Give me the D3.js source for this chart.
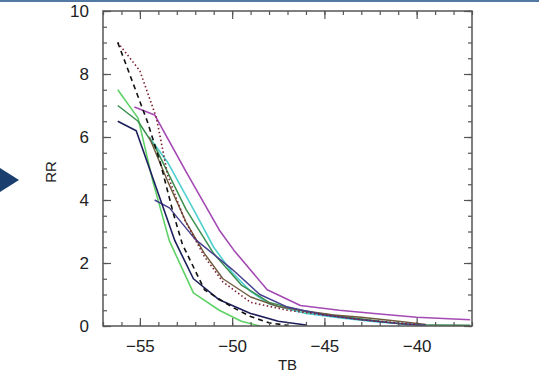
<!DOCTYPE html>
<html>
<head>
<meta charset="utf-8">
<script src="https://cdn.jsdelivr.net/npm/d3@7"></script>
<style>
  html, body { margin: 0; padding: 0; background: #fff; }
  svg { display: block; font-family: "Liberation Sans", Arial, sans-serif; }
</style>
</head>
<body>
<div id="chart"></div>
<script>
const WIDTH = 539
const HEIGHT = 384

// TB / RR pairs, one pair of arrays per curve
const tbMagenta = [-55.3, -54.2, -52.5, -50.7, -49.9, -48.1, -46.3, -44.2, -42, -40, -37.1]
const rrMagenta = [6.95, 6.7, 4.9, 3.05, 2.4, 1.15, 0.65, 0.5, 0.38, 0.28, 0.2]

const tbDotted = [-56.2, -55, -54.1, -53.5, -52.6, -51.5, -50.5, -49, -47, -45, -43, -41, -40]
const rrDotted = [9.0, 8.1, 6.6, 4.8, 3.4, 2.2, 1.4, 0.75, 0.5, 0.35, 0.2, 0.1, 0.05]

const tbDashed = [-56.2, -54.6, -53.9, -53.2, -52.7, -51.5, -50, -49, -48, -47]
const rrDashed = [9.0, 6.5, 5.2, 3.6, 2.6, 1.15, 0.6, 0.3, 0.1, 0.02]

const tbLightGreen = [-56.2, -55.1, -54.3, -53.4, -52.1, -50.7, -49.5, -48.5]
const rrLightGreen = [7.5, 6.6, 4.6, 2.7, 1.05, 0.5, 0.15, 0.0]

const tbDarkGreen = [-56.2, -55.1, -54.1, -52.5, -51, -49.5, -48, -46, -44, -42, -40.5, -37.1]
const rrDarkGreen = [7.0, 6.5, 5.6, 3.7, 2.3, 1.3, 0.75, 0.45, 0.3, 0.15, 0.04, 0.02]

const tbCyan = [-54.5, -53.5, -52, -51, -50, -49, -48, -46, -44, -42, -40]
const rrCyan = [6.0, 5.2, 3.6, 2.5, 1.7, 1.1, 0.7, 0.4, 0.25, 0.12, 0.05]

const tbNavy = [-56.2, -55.2, -53.1, -52.1, -50.7, -49, -47.5, -46]
const rrNavy = [6.5, 6.2, 2.7, 1.5, 0.83, 0.4, 0.15, 0.03]

const tbSlate = [-54.2, -53.4, -52, -50, -48.5, -47, -45, -43, -41, -39.5]
const rrSlate = [4.0, 3.75, 2.75, 1.8, 1.0, 0.6, 0.35, 0.2, 0.08, 0.02]

const tbBrown = [-54.5, -53.5, -52.5, -51.5, -50.5, -49, -47.5, -46.3, -44.5, -43, -41, -39.5]
const rrBrown = [6.0, 4.6, 3.3, 2.3, 1.5, 0.92, 0.62, 0.5, 0.35, 0.28, 0.15, 0.05]

const xTicks = [-55, -50, -45, -40]
const yTicks = [0, 2, 4, 6, 8, 10]

const zip = (xs, ys) => xs.map((x, i) => ({tb: x, rr: ys[i]}))

const series = [
  {values: zip(tbCyan, rrCyan), color: "#4fd0cf", dash: null, width: 1.6},
  {values: zip(tbLightGreen, rrLightGreen), color: "#5fd267", dash: null, width: 1.6},
  {values: zip(tbDarkGreen, rrDarkGreen), color: "#3b8f4f", dash: null, width: 1.5},
  {values: zip(tbBrown, rrBrown), color: "#6e5a3c", dash: null, width: 1.4},
  {values: zip(tbSlate, rrSlate), color: "#46408e", dash: null, width: 1.5},
  {values: zip(tbNavy, rrNavy), color: "#1d1f5c", dash: null, width: 1.6},
  {values: zip(tbMagenta, rrMagenta), color: "#a449b4", dash: null, width: 1.6},
  {values: zip(tbDotted, rrDotted), color: "#7a2030", dash: "1.5,2.5", width: 1.6},
  {values: zip(tbDashed, rrDashed), color: "#111111", dash: "5,4", width: 1.6},
]

const margin = {left: 103, right: WIDTH - 472, top: 11, bottom: HEIGHT - 326}

const x = d3.scaleLinear()
  .domain([-57, -37])
  .range([margin.left, WIDTH - margin.right])

const y = d3.scaleLinear()
  .domain([0, 10])
  .range([HEIGHT - margin.bottom, margin.top])

const svg = d3.select("#chart")
  .append("svg")
  .attr("width", WIDTH)
  .attr("height", HEIGHT)

// slide decoration: header rule and arrow
svg.append("rect")
  .attr("x", 0).attr("y", 0)
  .attr("width", WIDTH).attr("height", 2)
  .attr("fill", "#5279a4")

svg.append("path")
  .attr("d", "M0,168 L19,180 L0,192 Z")
  .attr("fill", "#1a3f6f")

// curves
const line = d3.line()
  .x(d => x(d.tb))
  .y(d => y(d.rr))

svg.append("g")
  .selectAll("path")
  .data(series)
  .join("path")
  .attr("d", d => line(d.values))
  .attr("fill", "none")
  .attr("stroke", d => d.color)
  .attr("stroke-width", d => d.width)
  .attr("stroke-dasharray", d => d.dash)
  .attr("stroke-linejoin", "round")

// axes, IDL style: ticks inward on all four sides
const AXIS_COLOR = "#555"
const xMinor = d3.range(-57, -36, 1)
const yMinor = d3.range(0, 10.01, 0.5)

const axisStyle = g => {
  g.select(".domain").remove()
  g.selectAll("line").attr("stroke", AXIS_COLOR).attr("stroke-width", 1.2)
}

const plotH = y(0) - y(10)
const plotW = x(-37) - x(-57)

svg.append("g")
  .attr("transform", `translate(0,${y(0)})`)
  .call(d3.axisBottom(x).tickValues(xMinor).tickSize(-4).tickFormat(""))
  .call(axisStyle)
svg.append("g")
  .attr("transform", `translate(0,${y(0)})`)
  .call(d3.axisBottom(x).tickValues(xTicks).tickSize(-8).tickPadding(14)
    .tickFormat(d => "\u2212" + Math.abs(d)))
  .call(axisStyle)
  .call(g => g.selectAll("text").attr("font-size", 17).attr("fill", "#222")
    .attr("font-family", "Liberation Sans, Arial, sans-serif"))

svg.append("g")
  .attr("transform", `translate(0,${y(10)})`)
  .call(d3.axisTop(x).tickValues(xMinor).tickSize(-4).tickFormat(""))
  .call(axisStyle)
svg.append("g")
  .attr("transform", `translate(0,${y(10)})`)
  .call(d3.axisTop(x).tickValues(xTicks).tickSize(-8).tickFormat(""))
  .call(axisStyle)

svg.append("g")
  .attr("transform", `translate(${x(-57)},0)`)
  .call(d3.axisLeft(y).tickValues(yMinor).tickSize(-4).tickFormat(""))
  .call(axisStyle)
svg.append("g")
  .attr("transform", `translate(${x(-57)},0)`)
  .call(d3.axisLeft(y).tickValues(yTicks).tickSize(-8).tickPadding(14).tickFormat(d3.format("d")))
  .call(axisStyle)
  .call(g => g.selectAll("text").attr("font-size", 17).attr("fill", "#222")
    .attr("font-family", "Liberation Sans, Arial, sans-serif"))

svg.append("g")
  .attr("transform", `translate(${x(-37)},0)`)
  .call(d3.axisRight(y).tickValues(yMinor).tickSize(-4).tickFormat(""))
  .call(axisStyle)
svg.append("g")
  .attr("transform", `translate(${x(-37)},0)`)
  .call(d3.axisRight(y).tickValues(yTicks).tickSize(-8).tickFormat(""))
  .call(axisStyle)

// frame
svg.append("rect")
  .attr("x", x(-57)).attr("y", y(10))
  .attr("width", plotW).attr("height", plotH)
  .attr("fill", "none")
  .attr("stroke", AXIS_COLOR)
  .attr("stroke-width", 1.5)

// axis titles
svg.append("text")
  .attr("x", (x(-57) + x(-37)) / 2)
  .attr("y", 370)
  .attr("text-anchor", "middle")
  .attr("font-size", 15)
  .attr("fill", "#222")
  .text("TB")

svg.append("text")
  .attr("transform", `translate(56,172) rotate(-90)`)
  .attr("text-anchor", "middle")
  .attr("font-size", 15)
  .attr("fill", "#222")
  .text("RR")
</script>
</body>
</html>
